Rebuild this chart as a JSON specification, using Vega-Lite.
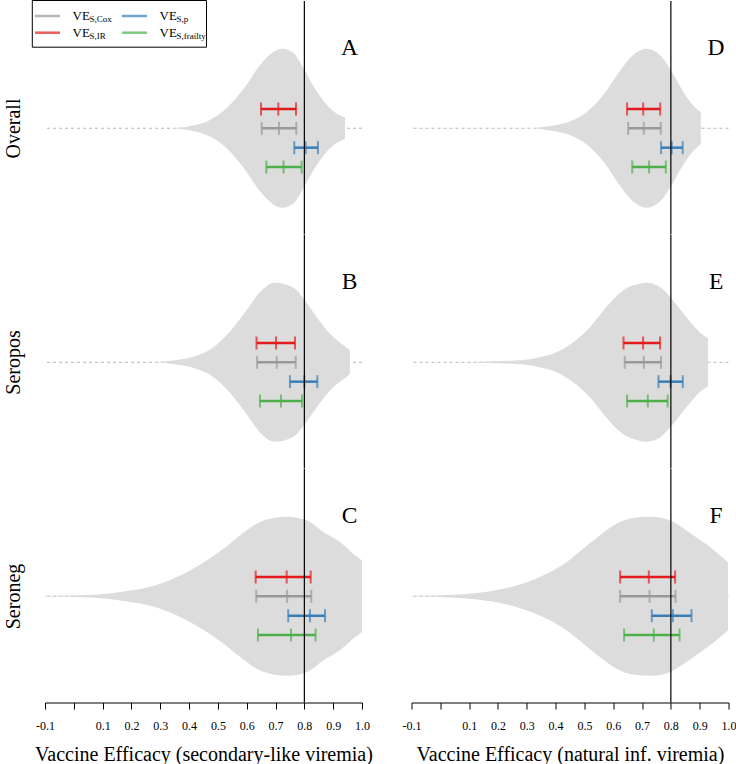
{
  "$schema": "https://vega.github.io/schema/vega-lite/v6.json",
  "padding": {"left": 3, "top": 0, "right": 0, "bottom": 0},
  "background": "white",
  "bounds": "flush",
  "columns": 2,
  "spacing": {"row": 0, "column": 49.5},
  "datasets": {
    "violin": [
      {"p":"A","x":0.345,"top":0,"bot":0},{"p":"A","x":0.415,"top":0.034,"bot":-0.034},{"p":"A","x":0.4725,"top":0.105,"bot":-0.105},{"p":"A","x":0.53,"top":0.252,"bot":-0.252},{"p":"A","x":0.588,"top":0.49,"bot":-0.49},{"p":"A","x":0.646,"top":0.794,"bot":-0.794},{"p":"A","x":0.692,"top":0.958,"bot":-0.958},{"p":"A","x":0.721,"top":1.0,"bot":-1.0},{"p":"A","x":0.762,"top":0.946,"bot":-0.946},{"p":"A","x":0.796,"top":0.757,"bot":-0.757},{"p":"A","x":0.843,"top":0.463,"bot":-0.463},{"p":"A","x":0.889,"top":0.252,"bot":-0.252},{"p":"A","x":0.924,"top":0.16,"bot":-0.16},{"p":"A","x":0.941,"top":0.135,"bot":-0.135},
      {"p":"B","x":0.28,"top":0,"bot":0},{"p":"B","x":0.35,"top":0.025,"bot":-0.025},{"p":"B","x":0.42,"top":0.076,"bot":-0.076},{"p":"B","x":0.48,"top":0.177,"bot":-0.177},{"p":"B","x":0.54,"top":0.378,"bot":-0.378},{"p":"B","x":0.6,"top":0.656,"bot":-0.656},{"p":"B","x":0.646,"top":0.883,"bot":-0.883},{"p":"B","x":0.698,"top":1.0,"bot":-1.0},{"p":"B","x":0.762,"top":0.937,"bot":-0.937},{"p":"B","x":0.802,"top":0.778,"bot":-0.778},{"p":"B","x":0.843,"top":0.567,"bot":-0.567},{"p":"B","x":0.889,"top":0.357,"bot":-0.357},{"p":"B","x":0.929,"top":0.231,"bot":-0.231},{"p":"B","x":0.958,"top":0.155,"bot":-0.155},
      {"p":"C","x":-0.1,"top":0.003,"bot":-0.003},{"p":"C","x":0.056,"top":0.016,"bot":-0.016},{"p":"C","x":0.172,"top":0.059,"bot":-0.059},{"p":"C","x":0.2875,"top":0.142,"bot":-0.142},{"p":"C","x":0.403,"top":0.324,"bot":-0.324},{"p":"C","x":0.461,"top":0.45,"bot":-0.45},{"p":"C","x":0.519,"top":0.596,"bot":-0.596},{"p":"C","x":0.577,"top":0.765,"bot":-0.765},{"p":"C","x":0.6345,"top":0.912,"bot":-0.912},{"p":"C","x":0.692,"top":0.984,"bot":-0.984},{"p":"C","x":0.744,"top":1.0,"bot":-1.0},{"p":"C","x":0.808,"top":0.955,"bot":-0.955},{"p":"C","x":0.866,"top":0.807,"bot":-0.807},{"p":"C","x":0.9235,"top":0.681,"bot":-0.681},{"p":"C","x":0.97,"top":0.533,"bot":-0.533},{"p":"C","x":1.0,"top":0.45,"bot":-0.45},
      {"p":"D","x":0.322,"top":0,"bot":0},{"p":"D","x":0.391,"top":0.034,"bot":-0.034},{"p":"D","x":0.449,"top":0.084,"bot":-0.084},{"p":"D","x":0.507,"top":0.202,"bot":-0.202},{"p":"D","x":0.565,"top":0.416,"bot":-0.416},{"p":"D","x":0.623,"top":0.719,"bot":-0.719},{"p":"D","x":0.669,"top":0.921,"bot":-0.921},{"p":"D","x":0.715,"top":1.0,"bot":-1.0},{"p":"D","x":0.762,"top":0.921,"bot":-0.921},{"p":"D","x":0.802,"top":0.719,"bot":-0.719},{"p":"D","x":0.842,"top":0.467,"bot":-0.467},{"p":"D","x":0.877,"top":0.29,"bot":-0.29},{"p":"D","x":0.904,"top":0.202,"bot":-0.202},
      {"p":"E","x":0.056,"top":0,"bot":0},{"p":"E","x":0.1725,"top":0.009,"bot":-0.009},{"p":"E","x":0.2875,"top":0.029,"bot":-0.029},{"p":"E","x":0.345,"top":0.063,"bot":-0.063},{"p":"E","x":0.403,"top":0.126,"bot":-0.126},{"p":"E","x":0.461,"top":0.252,"bot":-0.252},{"p":"E","x":0.519,"top":0.441,"bot":-0.441},{"p":"E","x":0.576,"top":0.694,"bot":-0.694},{"p":"E","x":0.634,"top":0.904,"bot":-0.904},{"p":"E","x":0.692,"top":0.987,"bot":-0.987},{"p":"E","x":0.715,"top":1.0,"bot":-1.0},{"p":"E","x":0.762,"top":0.946,"bot":-0.946},{"p":"E","x":0.808,"top":0.778,"bot":-0.778},{"p":"E","x":0.854,"top":0.567,"bot":-0.567},{"p":"E","x":0.9,"top":0.378,"bot":-0.378},{"p":"E","x":0.929,"top":0.303,"bot":-0.303},
      {"p":"F","x":-0.1,"top":0.003,"bot":-0.003},{"p":"F","x":0.033,"top":0.016,"bot":-0.016},{"p":"F","x":0.1485,"top":0.05,"bot":-0.05},{"p":"F","x":0.264,"top":0.135,"bot":-0.135},{"p":"F","x":0.38,"top":0.303,"bot":-0.303},{"p":"F","x":0.438,"top":0.429,"bot":-0.429},{"p":"F","x":0.4955,"top":0.596,"bot":-0.596},{"p":"F","x":0.5535,"top":0.765,"bot":-0.765},{"p":"F","x":0.611,"top":0.912,"bot":-0.912},{"p":"F","x":0.669,"top":0.984,"bot":-0.984},{"p":"F","x":0.733,"top":1.0,"bot":-1.0},{"p":"F","x":0.796,"top":0.955,"bot":-0.955},{"p":"F","x":0.854,"top":0.828,"bot":-0.828},{"p":"F","x":0.912,"top":0.681,"bot":-0.681},{"p":"F","x":0.958,"top":0.555,"bot":-0.555},{"p":"F","x":0.9985,"top":0.429,"bot":-0.429}
    ],
    "est": [
      {"p":"A","est":"IR","lo":0.6495,"mid":0.7096,"hi":0.771},{"p":"A","est":"Cox","lo":0.652,"mid":0.712,"hi":0.772},{"p":"A","est":"p","lo":0.765,"mid":0.8045,"hi":0.847},{"p":"A","est":"frailty","lo":0.668,"mid":0.728,"hi":0.7906},
      {"p":"B","est":"IR","lo":0.634,"mid":0.7015,"hi":0.7675},{"p":"B","est":"Cox","lo":0.636,"mid":0.704,"hi":0.77},{"p":"B","est":"p","lo":0.75,"mid":0.8,"hi":0.845},{"p":"B","est":"frailty","lo":0.646,"mid":0.719,"hi":0.792},
      {"p":"C","est":"IR","lo":0.631,"mid":0.7386,"hi":0.822},{"p":"C","est":"Cox","lo":0.633,"mid":0.74,"hi":0.824},{"p":"C","est":"p","lo":0.744,"mid":0.8195,"hi":0.8716},{"p":"C","est":"frailty","lo":0.639,"mid":0.7536,"hi":0.839},
      {"p":"D","est":"IR","lo":0.648,"mid":0.704,"hi":0.763},{"p":"D","est":"Cox","lo":0.652,"mid":0.706,"hi":0.765},{"p":"D","est":"p","lo":0.766,"mid":0.803,"hi":0.841},{"p":"D","est":"frailty","lo":0.666,"mid":0.7245,"hi":0.7825},
      {"p":"E","est":"IR","lo":0.6356,"mid":0.7036,"hi":0.7626},{"p":"E","est":"Cox","lo":0.64,"mid":0.706,"hi":0.766},{"p":"E","est":"p","lo":0.757,"mid":0.7987,"hi":0.8414},{"p":"E","est":"frailty","lo":0.648,"mid":0.72,"hi":0.789},
      {"p":"F","est":"IR","lo":0.624,"mid":0.7235,"hi":0.8147},{"p":"F","est":"Cox","lo":0.624,"mid":0.726,"hi":0.816},{"p":"F","est":"p","lo":0.7338,"mid":0.8067,"hi":0.8716},{"p":"F","est":"frailty","lo":0.6377,"mid":0.7407,"hi":0.83}
    ],
    "legend": [
      {"est":"Cox","lc":"c1","lr":"r1","sub":"S,Cox"},
      {"est":"p","lc":"c2","lr":"r1","sub":"S,p"},
      {"est":"IR","lc":"c1","lr":"r2","sub":"S,IR"},
      {"est":"frailty","lc":"c2","lr":"r2","sub":"S,frailty"}
    ]
  },
  "concat": [
    {
      "width": 317, "height": 233.5,
      "resolve": {"scale": {"x": "independent", "y": "independent"}},
      "layer": [
        {"data": {"values": [{}]}, "mark": {"type": "rule", "color": "#b5b5b5", "strokeDash": [3, 3], "strokeWidth": 1},
         "encoding": {"y": {"datum": 0, "type": "quantitative", "scale": {"domain": [-1.337, 1.601], "nice": false, "zero": false}, "axis": null}}},
        {"data": {"name": "violin"}, "transform": [{"filter": "datum.p == 'A'"}],
         "mark": {"type": "area", "color": "#dcdcdc", "interpolate": "monotone", "orient": "vertical"},
         "encoding": {
           "x": {"field": "x", "type": "quantitative", "scale": {"domain": [-0.1, 1], "nice": false, "zero": false}, "axis": null},
           "y": {"field": "top", "type": "quantitative", "scale": {"domain": [-1.337, 1.601], "nice": false, "zero": false},
                 "axis": {"title": "Overall", "labels": false, "ticks": false, "domain": false, "grid": false, "titleFont": "Liberation Serif", "titleFontSize": 20, "titleFontWeight": "normal", "titleColor": "black", "titlePadding": 22, "titleY": 127}},
           "y2": {"field": "bot"}}},
        {"data": {"values": [{"p": "A"}]}, "mark": {"type": "text", "fontSize": 23.5, "align": "center", "baseline": "middle", "color": "black", "font": "Liberation Serif"},
         "encoding": {"text": {"field": "p", "type": "nominal"},
           "x": {"datum": 0.957, "type": "quantitative", "scale": {"domain": [-0.1, 1], "nice": false, "zero": false}, "axis": null},
           "y": {"datum": 1.015, "type": "quantitative", "scale": {"domain": [-1.337, 1.601], "nice": false, "zero": false}, "axis": null}}},
        {"data": {"name": "est"}, "transform": [{"filter": "datum.p == 'A'"}],
         "encoding": {
           "y": {"field": "est", "type": "nominal", "scale": {"type": "point", "domain": ["IR", "Cox", "p", "frailty"], "range": [108, 166], "padding": 0}, "axis": null},
           "color": {"field": "est", "type": "nominal", "scale": {"domain": ["IR", "Cox", "p", "frailty"], "range": ["#e41a1c", "#999999", "#377eb8", "#4daf4a"]}, "legend": null}},
         "layer": [
           {"mark": {"type": "rule", "strokeWidth": 2.5}, "encoding": {"x": {"field": "lo", "type": "quantitative", "scale": {"domain": [-0.1, 1], "nice": false, "zero": false}, "axis": null}, "x2": {"field": "hi"}}},
           {"transform": [{"fold": ["lo", "mid", "hi"], "as": ["k", "v"]}], "mark": {"type": "tick", "size": 13, "thickness": 2}, "encoding": {"x": {"field": "v", "type": "quantitative", "scale": {"domain": [-0.1, 1], "nice": false, "zero": false}, "axis": null}}}
         ]},
        {"data": {"name": "legend"},
         "encoding": {
           "x": {"field": "lc", "type": "nominal", "scale": {"type": "point", "domain": ["c1", "c2"], "range": [2.5, 89.5], "padding": 0}, "axis": null},
           "y": {"field": "lr", "type": "nominal", "scale": {"type": "point", "domain": ["r1", "r2"], "range": [15, 31.7], "padding": 0}, "axis": null}},
         "layer": [
           {"mark": {"type": "tick", "orient": "horizontal", "size": 25, "thickness": 2.5},
            "encoding": {"color": {"field": "est", "type": "nominal", "scale": {"domain": ["IR", "Cox", "p", "frailty"], "range": ["#e41a1c", "#999999", "#377eb8", "#4daf4a"]}, "legend": null}}},
           {"mark": {"type": "text", "align": "left", "baseline": "alphabetic", "dx": 25, "dy": 4.3, "fontSize": 13, "font": "Liberation Serif", "color": "black"},
            "encoding": {"text": {"value": "VE"}}},
           {"mark": {"type": "text", "align": "left", "baseline": "alphabetic", "dx": 42, "dy": 6, "fontSize": 9, "font": "Liberation Serif", "color": "black"},
            "encoding": {"text": {"field": "sub", "type": "nominal"}}},
           {"data": {"values": [{}]}, "mark": {"type": "rect", "fill": "transparent", "stroke": "black", "strokeWidth": 1, "xOffset": -15.2, "x2Offset": 72, "yOffset": -15.5, "y2Offset": 14.5},
            "encoding": {"x": {"datum": "c1", "type": "nominal"}, "x2": {"datum": "c2"}, "y": {"datum": "r1", "type": "nominal"}, "y2": {"datum": "r2"}}}
         ]},
        {"data": {"values": [{}]}, "mark": {"type": "rule", "color": "black", "strokeWidth": 1.2},
         "encoding": {"x": {"datum": 0.8, "type": "quantitative", "scale": {"domain": [-0.1, 1], "nice": false, "zero": false}, "axis": null}}}
      ]
    },
    {
      "width": 317, "height": 233.5,
      "resolve": {"scale": {"x": "independent", "y": "independent"}},
      "layer": [
        {"data": {"values": [{}]}, "mark": {"type": "rule", "color": "#b5b5b5", "strokeDash": [3, 3], "strokeWidth": 1},
         "encoding": {"y": {"datum": 0, "type": "quantitative", "scale": {"domain": [-1.337, 1.601], "nice": false, "zero": false}, "axis": null}}},
        {"data": {"name": "violin"}, "transform": [{"filter": "datum.p == 'D'"}],
         "mark": {"type": "area", "color": "#dcdcdc", "interpolate": "monotone", "orient": "vertical"},
         "encoding": {
           "x": {"field": "x", "type": "quantitative", "scale": {"domain": [-0.1, 1], "nice": false, "zero": false}, "axis": null},
           "y": {"field": "top", "type": "quantitative", "scale": {"domain": [-1.337, 1.601], "nice": false, "zero": false}, "axis": null},
           "y2": {"field": "bot"}}},
        {"data": {"values": [{"p": "D"}]}, "mark": {"type": "text", "fontSize": 23.5, "align": "center", "baseline": "middle", "color": "black", "font": "Liberation Serif"},
         "encoding": {"text": {"field": "p", "type": "nominal"},
           "x": {"datum": 0.957, "type": "quantitative", "scale": {"domain": [-0.1, 1], "nice": false, "zero": false}, "axis": null},
           "y": {"datum": 1.015, "type": "quantitative", "scale": {"domain": [-1.337, 1.601], "nice": false, "zero": false}, "axis": null}}},
        {"data": {"name": "est"}, "transform": [{"filter": "datum.p == 'D'"}],
         "encoding": {
           "y": {"field": "est", "type": "nominal", "scale": {"type": "point", "domain": ["IR", "Cox", "p", "frailty"], "range": [108, 166], "padding": 0}, "axis": null},
           "color": {"field": "est", "type": "nominal", "scale": {"domain": ["IR", "Cox", "p", "frailty"], "range": ["#e41a1c", "#999999", "#377eb8", "#4daf4a"]}, "legend": null}},
         "layer": [
           {"mark": {"type": "rule", "strokeWidth": 2.5}, "encoding": {"x": {"field": "lo", "type": "quantitative", "scale": {"domain": [-0.1, 1], "nice": false, "zero": false}, "axis": null}, "x2": {"field": "hi"}}},
           {"transform": [{"fold": ["lo", "mid", "hi"], "as": ["k", "v"]}], "mark": {"type": "tick", "size": 13, "thickness": 2}, "encoding": {"x": {"field": "v", "type": "quantitative", "scale": {"domain": [-0.1, 1], "nice": false, "zero": false}, "axis": null}}}
         ]},
        {"data": {"values": [{}]}, "mark": {"type": "rule", "color": "black", "strokeWidth": 1.2},
         "encoding": {"x": {"datum": 0.8, "type": "quantitative", "scale": {"domain": [-0.1, 1], "nice": false, "zero": false}, "axis": null}}}
      ]
    },
    {
      "width": 317, "height": 233.5,
      "resolve": {"scale": {"x": "independent", "y": "independent"}},
      "layer": [
        {"data": {"values": [{}]}, "mark": {"type": "rule", "color": "#b5b5b5", "strokeDash": [3, 3], "strokeWidth": 1},
         "encoding": {"y": {"datum": 0, "type": "quantitative", "scale": {"domain": [-1.337, 1.601], "nice": false, "zero": false}, "axis": null}}},
        {"data": {"name": "violin"}, "transform": [{"filter": "datum.p == 'B'"}],
         "mark": {"type": "area", "color": "#dcdcdc", "interpolate": "monotone", "orient": "vertical"},
         "encoding": {
           "x": {"field": "x", "type": "quantitative", "scale": {"domain": [-0.1, 1], "nice": false, "zero": false}, "axis": null},
           "y": {"field": "top", "type": "quantitative", "scale": {"domain": [-1.337, 1.601], "nice": false, "zero": false},
                 "axis": {"title": "Seropos", "labels": false, "ticks": false, "domain": false, "grid": false, "titleFont": "Liberation Serif", "titleFontSize": 20, "titleFontWeight": "normal", "titleColor": "black", "titlePadding": 22, "titleY": 127}},
           "y2": {"field": "bot"}}},
        {"data": {"values": [{"p": "B"}]}, "mark": {"type": "text", "fontSize": 23.5, "align": "center", "baseline": "middle", "color": "black", "font": "Liberation Serif"},
         "encoding": {"text": {"field": "p", "type": "nominal"},
           "x": {"datum": 0.957, "type": "quantitative", "scale": {"domain": [-0.1, 1], "nice": false, "zero": false}, "axis": null},
           "y": {"datum": 1.015, "type": "quantitative", "scale": {"domain": [-1.337, 1.601], "nice": false, "zero": false}, "axis": null}}},
        {"data": {"name": "est"}, "transform": [{"filter": "datum.p == 'B'"}],
         "encoding": {
           "y": {"field": "est", "type": "nominal", "scale": {"type": "point", "domain": ["IR", "Cox", "p", "frailty"], "range": [108, 166], "padding": 0}, "axis": null},
           "color": {"field": "est", "type": "nominal", "scale": {"domain": ["IR", "Cox", "p", "frailty"], "range": ["#e41a1c", "#999999", "#377eb8", "#4daf4a"]}, "legend": null}},
         "layer": [
           {"mark": {"type": "rule", "strokeWidth": 2.5}, "encoding": {"x": {"field": "lo", "type": "quantitative", "scale": {"domain": [-0.1, 1], "nice": false, "zero": false}, "axis": null}, "x2": {"field": "hi"}}},
           {"transform": [{"fold": ["lo", "mid", "hi"], "as": ["k", "v"]}], "mark": {"type": "tick", "size": 13, "thickness": 2}, "encoding": {"x": {"field": "v", "type": "quantitative", "scale": {"domain": [-0.1, 1], "nice": false, "zero": false}, "axis": null}}}
         ]},
        {"data": {"values": [{}]}, "mark": {"type": "rule", "color": "black", "strokeWidth": 1.2},
         "encoding": {"x": {"datum": 0.8, "type": "quantitative", "scale": {"domain": [-0.1, 1], "nice": false, "zero": false}, "axis": null}}}
      ]
    },
    {
      "width": 317, "height": 233.5,
      "resolve": {"scale": {"x": "independent", "y": "independent"}},
      "layer": [
        {"data": {"values": [{}]}, "mark": {"type": "rule", "color": "#b5b5b5", "strokeDash": [3, 3], "strokeWidth": 1},
         "encoding": {"y": {"datum": 0, "type": "quantitative", "scale": {"domain": [-1.337, 1.601], "nice": false, "zero": false}, "axis": null}}},
        {"data": {"name": "violin"}, "transform": [{"filter": "datum.p == 'E'"}],
         "mark": {"type": "area", "color": "#dcdcdc", "interpolate": "monotone", "orient": "vertical"},
         "encoding": {
           "x": {"field": "x", "type": "quantitative", "scale": {"domain": [-0.1, 1], "nice": false, "zero": false}, "axis": null},
           "y": {"field": "top", "type": "quantitative", "scale": {"domain": [-1.337, 1.601], "nice": false, "zero": false}, "axis": null},
           "y2": {"field": "bot"}}},
        {"data": {"values": [{"p": "E"}]}, "mark": {"type": "text", "fontSize": 23.5, "align": "center", "baseline": "middle", "color": "black", "font": "Liberation Serif"},
         "encoding": {"text": {"field": "p", "type": "nominal"},
           "x": {"datum": 0.957, "type": "quantitative", "scale": {"domain": [-0.1, 1], "nice": false, "zero": false}, "axis": null},
           "y": {"datum": 1.015, "type": "quantitative", "scale": {"domain": [-1.337, 1.601], "nice": false, "zero": false}, "axis": null}}},
        {"data": {"name": "est"}, "transform": [{"filter": "datum.p == 'E'"}],
         "encoding": {
           "y": {"field": "est", "type": "nominal", "scale": {"type": "point", "domain": ["IR", "Cox", "p", "frailty"], "range": [108, 166], "padding": 0}, "axis": null},
           "color": {"field": "est", "type": "nominal", "scale": {"domain": ["IR", "Cox", "p", "frailty"], "range": ["#e41a1c", "#999999", "#377eb8", "#4daf4a"]}, "legend": null}},
         "layer": [
           {"mark": {"type": "rule", "strokeWidth": 2.5}, "encoding": {"x": {"field": "lo", "type": "quantitative", "scale": {"domain": [-0.1, 1], "nice": false, "zero": false}, "axis": null}, "x2": {"field": "hi"}}},
           {"transform": [{"fold": ["lo", "mid", "hi"], "as": ["k", "v"]}], "mark": {"type": "tick", "size": 13, "thickness": 2}, "encoding": {"x": {"field": "v", "type": "quantitative", "scale": {"domain": [-0.1, 1], "nice": false, "zero": false}, "axis": null}}}
         ]},
        {"data": {"values": [{}]}, "mark": {"type": "rule", "color": "black", "strokeWidth": 1.2},
         "encoding": {"x": {"datum": 0.8, "type": "quantitative", "scale": {"domain": [-0.1, 1], "nice": false, "zero": false}, "axis": null}}}
      ]
    },
    {
      "width": 317, "height": 233.5,
      "resolve": {"scale": {"x": "independent", "y": "independent"}},
      "layer": [
        {"data": {"values": [{}]}, "mark": {"type": "rule", "color": "#b5b5b5", "strokeDash": [3, 3], "strokeWidth": 1},
         "encoding": {"y": {"datum": 0, "type": "quantitative", "scale": {"domain": [-1.337, 1.601], "nice": false, "zero": false}, "axis": null}}},
        {"data": {"name": "violin"}, "transform": [{"filter": "datum.p == 'C'"}],
         "mark": {"type": "area", "color": "#dcdcdc", "interpolate": "monotone", "orient": "vertical"},
         "encoding": {
           "x": {"field": "x", "type": "quantitative", "scale": {"domain": [-0.1, 1], "nice": false, "zero": false},
                 "axis": {"values": [-0.1, 0, 0.1, 0.2, 0.3, 0.4, 0.5, 0.6, 0.7, 0.8, 0.9, 1], "labelExpr": "datum.value == 0 ? '' : (datum.value < 0 ? '-0.1' : format(datum.value, '.1f'))", "title": "Vaccine Efficacy (secondary-like viremia)", "grid": false, "domainColor": "black", "tickColor": "black", "tickSize": 6.5, "labelFont": "Liberation Serif", "labelFontSize": 12, "labelColor": "black", "labelPadding": 11, "labelFlush": false, "labelOverlap": false, "titleFont": "Liberation Serif", "titleFontSize": 20, "titleFontWeight": "normal", "titleColor": "black", "titlePadding": 13}},
           "y": {"field": "top", "type": "quantitative", "scale": {"domain": [-1.337, 1.601], "nice": false, "zero": false},
                 "axis": {"title": "Seroneg", "labels": false, "ticks": false, "domain": false, "grid": false, "titleFont": "Liberation Serif", "titleFontSize": 20, "titleFontWeight": "normal", "titleColor": "black", "titlePadding": 22, "titleY": 127}},
           "y2": {"field": "bot"}}},
        {"data": {"values": [{"p": "C"}]}, "mark": {"type": "text", "fontSize": 23.5, "align": "center", "baseline": "middle", "color": "black", "font": "Liberation Serif"},
         "encoding": {"text": {"field": "p", "type": "nominal"},
           "x": {"datum": 0.957, "type": "quantitative", "scale": {"domain": [-0.1, 1], "nice": false, "zero": false}, "axis": null},
           "y": {"datum": 1.015, "type": "quantitative", "scale": {"domain": [-1.337, 1.601], "nice": false, "zero": false}, "axis": null}}},
        {"data": {"name": "est"}, "transform": [{"filter": "datum.p == 'C'"}],
         "encoding": {
           "y": {"field": "est", "type": "nominal", "scale": {"type": "point", "domain": ["IR", "Cox", "p", "frailty"], "range": [108, 166], "padding": 0}, "axis": null},
           "color": {"field": "est", "type": "nominal", "scale": {"domain": ["IR", "Cox", "p", "frailty"], "range": ["#e41a1c", "#999999", "#377eb8", "#4daf4a"]}, "legend": null}},
         "layer": [
           {"mark": {"type": "rule", "strokeWidth": 2.5}, "encoding": {"x": {"field": "lo", "type": "quantitative", "scale": {"domain": [-0.1, 1], "nice": false, "zero": false}, "axis": null}, "x2": {"field": "hi"}}},
           {"transform": [{"fold": ["lo", "mid", "hi"], "as": ["k", "v"]}], "mark": {"type": "tick", "size": 13, "thickness": 2}, "encoding": {"x": {"field": "v", "type": "quantitative", "scale": {"domain": [-0.1, 1], "nice": false, "zero": false}, "axis": null}}}
         ]},
        {"data": {"values": [{}]}, "mark": {"type": "rule", "color": "black", "strokeWidth": 1.2},
         "encoding": {"x": {"datum": 0.8, "type": "quantitative", "scale": {"domain": [-0.1, 1], "nice": false, "zero": false}, "axis": null}}}
      ]
    },
    {
      "width": 317, "height": 233.5,
      "resolve": {"scale": {"x": "independent", "y": "independent"}},
      "layer": [
        {"data": {"values": [{}]}, "mark": {"type": "rule", "color": "#b5b5b5", "strokeDash": [3, 3], "strokeWidth": 1},
         "encoding": {"y": {"datum": 0, "type": "quantitative", "scale": {"domain": [-1.337, 1.601], "nice": false, "zero": false}, "axis": null}}},
        {"data": {"name": "violin"}, "transform": [{"filter": "datum.p == 'F'"}],
         "mark": {"type": "area", "color": "#dcdcdc", "interpolate": "monotone", "orient": "vertical"},
         "encoding": {
           "x": {"field": "x", "type": "quantitative", "scale": {"domain": [-0.1, 1], "nice": false, "zero": false},
                 "axis": {"values": [-0.1, 0, 0.1, 0.2, 0.3, 0.4, 0.5, 0.6, 0.7, 0.8, 0.9, 1], "labelExpr": "datum.value == 0 ? '' : (datum.value < 0 ? '-0.1' : format(datum.value, '.1f'))", "title": "Vaccine Efficacy (natural inf. viremia)", "grid": false, "domainColor": "black", "tickColor": "black", "tickSize": 6.5, "labelFont": "Liberation Serif", "labelFontSize": 12, "labelColor": "black", "labelPadding": 11, "labelFlush": false, "labelOverlap": false, "titleFont": "Liberation Serif", "titleFontSize": 20, "titleFontWeight": "normal", "titleColor": "black", "titlePadding": 13}},
           "y": {"field": "top", "type": "quantitative", "scale": {"domain": [-1.337, 1.601], "nice": false, "zero": false}, "axis": null},
           "y2": {"field": "bot"}}},
        {"data": {"values": [{"p": "F"}]}, "mark": {"type": "text", "fontSize": 23.5, "align": "center", "baseline": "middle", "color": "black", "font": "Liberation Serif"},
         "encoding": {"text": {"field": "p", "type": "nominal"},
           "x": {"datum": 0.957, "type": "quantitative", "scale": {"domain": [-0.1, 1], "nice": false, "zero": false}, "axis": null},
           "y": {"datum": 1.015, "type": "quantitative", "scale": {"domain": [-1.337, 1.601], "nice": false, "zero": false}, "axis": null}}},
        {"data": {"name": "est"}, "transform": [{"filter": "datum.p == 'F'"}],
         "encoding": {
           "y": {"field": "est", "type": "nominal", "scale": {"type": "point", "domain": ["IR", "Cox", "p", "frailty"], "range": [108, 166], "padding": 0}, "axis": null},
           "color": {"field": "est", "type": "nominal", "scale": {"domain": ["IR", "Cox", "p", "frailty"], "range": ["#e41a1c", "#999999", "#377eb8", "#4daf4a"]}, "legend": null}},
         "layer": [
           {"mark": {"type": "rule", "strokeWidth": 2.5}, "encoding": {"x": {"field": "lo", "type": "quantitative", "scale": {"domain": [-0.1, 1], "nice": false, "zero": false}, "axis": null}, "x2": {"field": "hi"}}},
           {"transform": [{"fold": ["lo", "mid", "hi"], "as": ["k", "v"]}], "mark": {"type": "tick", "size": 13, "thickness": 2}, "encoding": {"x": {"field": "v", "type": "quantitative", "scale": {"domain": [-0.1, 1], "nice": false, "zero": false}, "axis": null}}}
         ]},
        {"data": {"values": [{}]}, "mark": {"type": "rule", "color": "black", "strokeWidth": 1.2},
         "encoding": {"x": {"datum": 0.8, "type": "quantitative", "scale": {"domain": [-0.1, 1], "nice": false, "zero": false}, "axis": null}}}
      ]
    }
  ],
  "config": {"view": {"stroke": null}, "axis": {"grid": false}}
}
